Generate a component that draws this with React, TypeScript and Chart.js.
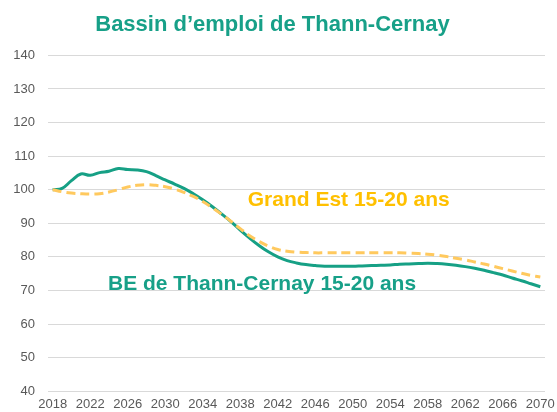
import React, { useEffect, useRef } from "react";
import { Chart, registerables } from "chart.js";

Chart.register(...registerables);

const years: string[] = [
  "2018","2019","2020","2021","2022","2023","2024","2025","2026","2027",
  "2028","2029","2030","2031","2032","2033","2034","2035","2036","2037",
  "2038","2039","2040","2041","2042","2043","2044","2045","2046","2047",
  "2048","2049","2050","2051","2052","2053","2054","2055","2056","2057",
  "2058","2059","2060","2061","2062","2063","2064","2065","2066","2067",
  "2068","2069","2070",
];

const shownYearLabels: string[] = [
  "2018","2022","2026","2030","2034","2038","2042","2046","2050","2054","2058","2062","2066","2070",
];

const beThannCernay: number[] = [
  100, 100.4, 102.7, 104.7, 104.3, 105.1, 105.5, 106.3, 106.0, 105.9,
  105.4, 104.2, 102.9, 101.7, 100.4, 98.8, 97.0, 95.0, 92.8, 90.5,
  88.0, 85.6, 83.4, 81.5, 80.0, 78.9, 78.2, 77.7, 77.4, 77.2,
  77.2, 77.2, 77.2, 77.3, 77.4, 77.5, 77.6, 77.8, 77.9, 78.0,
  78.1, 78.0, 77.8, 77.5, 77.1, 76.6, 76.0, 75.3, 74.6, 73.7,
  72.9, 72.0, 71.1,
];

const grandEst: number[] = [
  100, 99.4, 99.0, 98.8, 98.7, 98.8, 99.3, 100.0, 100.8, 101.3,
  101.5, 101.3, 100.9, 100.2, 99.2, 98.0, 96.5, 94.7, 92.7, 90.6,
  88.4, 86.3, 84.6, 83.2, 82.2, 81.7, 81.4, 81.3, 81.2, 81.2,
  81.2, 81.2, 81.2, 81.2, 81.2, 81.2, 81.2, 81.2, 81.1, 81.0,
  80.8, 80.5, 80.1, 79.6, 79.1, 78.5, 77.9, 77.2, 76.5, 75.8,
  75.1, 74.5, 74.0,
];

const yMin = 40;
const yMax = 140;
const yStep = 10;

const GREEN = "#16a085";
const GREEN_TEXT = "#17a088";
const YELLOW_LINE = "#ffc95e";
const YELLOW_TEXT = "#ffc000";
const FONT = "'Liberation Sans', Arial, sans-serif";

const labelsPlugin = {
  id: "seriesLabels",
  afterDatasetsDraw(chart: any) {
    const { ctx, scales } = chart;
    const x = scales.x;
    const y = scales.y;
    ctx.save();
    ctx.font = `bold 21px ${FONT}`;
    ctx.textBaseline = "middle";
    ctx.textAlign = "left";
    ctx.fillStyle = YELLOW_TEXT;
    ctx.fillText("Grand Est 15-20 ans", x.getPixelForValue(20.8), y.getPixelForValue(97.0));
    ctx.fillStyle = GREEN_TEXT;
    ctx.fillText("BE de Thann-Cernay 15-20 ans", x.getPixelForValue(5.9), y.getPixelForValue(72.0));
    ctx.restore();
  },
};

export default function App() {
  const canvasRef = useRef<HTMLCanvasElement | null>(null);

  useEffect(() => {
    if (!canvasRef.current) return;
    const chart = new Chart(canvasRef.current, {
      type: "line",
      data: {
        labels: years,
        datasets: [
          {
            label: "Grand Est 15-20 ans",
            data: grandEst,
            borderColor: YELLOW_LINE,
            borderWidth: 3,
            borderDash: [9, 5],
            pointRadius: 0,
            tension: 0.4,
            fill: false,
          },
          {
            label: "BE de Thann-Cernay 15-20 ans",
            data: beThannCernay,
            borderColor: GREEN,
            borderWidth: 3,
            pointRadius: 0,
            tension: 0.4,
            fill: false,
          },
        ],
      },
      options: {
        responsive: true,
        maintainAspectRatio: false,
        animation: false,
        layout: { padding: { left: 0, right: 12, top: 0, bottom: 0 } },
        plugins: {
          legend: { display: false },
          tooltip: { enabled: false },
          title: {
            display: true,
            text: "Bassin d’emploi de Thann-Cernay",
            color: GREEN_TEXT,
            font: { family: FONT, size: 22, weight: "bold" },
            padding: { top: 12, bottom: 17 },
          },
        },
        scales: {
          x: {
            type: "category",
            offset: true,
            grid: { display: false, drawTicks: false },
            border: { display: false },
            ticks: {
              autoSkip: false,
              maxRotation: 0,
              padding: 5,
              color: "#595959",
              font: { family: FONT, size: 13 },
              callback: (_v: any, i: number) =>
                shownYearLabels.includes(years[i]) ? years[i] : null,
            },
            afterFit: (s: any) => {
              s.height = 20;
              s.paddingRight = 0;
              s.paddingLeft = 0;
            },
          },
          y: {
            min: yMin,
            max: yMax,
            grid: { color: "#d9d9d9", drawTicks: false, lineWidth: 1 },
            border: { display: false },
            ticks: {
              stepSize: yStep,
              padding: 13,
              color: "#595959",
              font: { family: FONT, size: 13 },
            },
            afterFit: (s: any) => {
              s.width = 48;
            },
          },
        },
      },
      plugins: [labelsPlugin],
    });
    return () => chart.destroy();
  }, []);

  return (
    <div style={{ position: "absolute", left: 0, top: 0, width: 557, height: 412, background: "#fff" }}>
      <canvas ref={canvasRef} />
    </div>
  );
}
